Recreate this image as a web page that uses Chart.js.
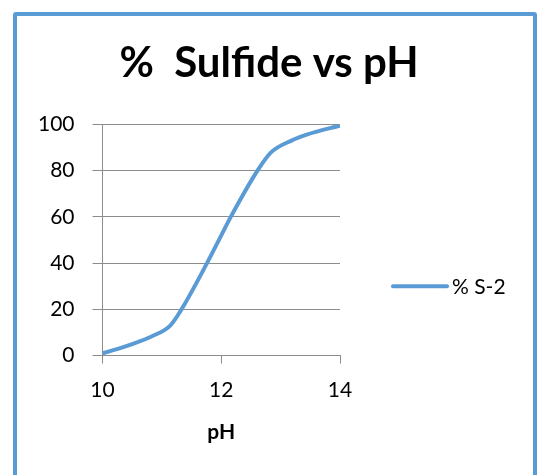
<!DOCTYPE html>
<html>
<head>
<meta charset="utf-8">
<script src="https://cdn.jsdelivr.net/npm/chart.js@4/dist/chart.umd.min.js"></script>
<style>
  html, body { margin: 0; padding: 0; background: #fff; }
  #wrap { position: relative; width: 538px; height: 475px; overflow: hidden; }
  #frame {
    position: absolute; left: 13px; top: 12px; width: 524px; height: 520px;
    box-sizing: border-box; border: 4px solid #5b9bd5; border-radius: 3px;
    pointer-events: none;
  }
</style>
</head>
<body>
<div id="wrap">
  <canvas id="chart" width="538" height="475"></canvas>
  <div id="frame"></div>
</div>
<script>
// data
const phValues = [10, 10.5, 10.86, 11.14, 11.33, 11.76, 12, 12.16, 12.61, 12.83, 13.19, 13.44, 14];
const sulfidePct = [1, 5, 8.7, 13, 20, 40, 52, 60, 80, 87.7, 93.1, 95.6, 99.5];
const seriesName = '% S-2';
const chartTitle = '%  Sulfide vs pH';
const xTitle = 'pH';

const lineColor = '#5b9bd5';
const gridColor = '#8c8c8c';
const fontFamily = 'Lato, "Open Sans", sans-serif';

// legend drawn at the right of the plot, like Excel's
const sideLegend = {
  id: 'sideLegend',
  afterDraw(chart) {
    const ctx = chart.ctx;
    const area = chart.chartArea;
    const ds = chart.data.datasets[0];
    const y = area.top + (area.bottom - area.top) * 0.7;
    const x0 = area.right + 53;
    ctx.save();
    ctx.strokeStyle = ds.borderColor;
    ctx.lineWidth = ds.borderWidth;
    ctx.lineCap = 'round';
    ctx.beginPath();
    ctx.moveTo(x0, y);
    ctx.lineTo(x0 + 54, y);
    ctx.stroke();
    ctx.fillStyle = '#000';
    ctx.font = '21px ' + fontFamily;
    ctx.textBaseline = 'middle';
    ctx.fillText(ds.label, x0 + 59, y + 1);
    ctx.restore();
  }
};

const points = phValues.map((ph, i) => ({ x: ph, y: sulfidePct[i] }));

new Chart(document.getElementById('chart'), {
  type: 'line',
  data: {
    datasets: [{
      label: seriesName,
      data: points,
      borderColor: lineColor,
      backgroundColor: lineColor,
      borderWidth: 4,
      borderCapStyle: 'round',
      pointRadius: 0,
      cubicInterpolationMode: 'monotone',
      fill: false
    }]
  },
  options: {
    responsive: false,
    animation: false,
    layout: { padding: { left: 20, right: 20, top: 14, bottom: 30 } },
    plugins: {
      legend: { display: false },
      tooltip: { enabled: false },
      title: {
        display: true,
        text: chartTitle,
        color: '#000',
        font: { family: fontFamily, size: 42, weight: 'bold', lineHeight: 1.2 },
        padding: { top: 24, bottom: 36 }
      }
    },
    scales: {
      x: {
        type: 'linear',
        min: 10,
        max: 14,
        ticks: {
          stepSize: 2,
          color: '#000',
          padding: 14,
          font: { family: fontFamily, size: 21 }
        },
        grid: { drawOnChartArea: false, drawTicks: true, tickLength: 8, color: gridColor },
        border: { color: gridColor },
        title: {
          display: true,
          text: xTitle,
          color: '#000',
          font: { family: fontFamily, size: 21, weight: 'bold', lineHeight: 1.2 },
          padding: { top: 3, bottom: 0 }
        }
      },
      y: {
        min: 0,
        max: 100,
        ticks: {
          stepSize: 20,
          color: '#000',
          padding: 18,
          font: { family: fontFamily, size: 21 }
        },
        grid: { color: gridColor, tickLength: 10 },
        border: { color: gridColor }
      },
      spacer: {
        type: 'linear',
        position: 'right',
        display: true,
        ticks: { display: false },
        grid: { display: false },
        border: { display: false },
        afterFit(scale) { scale.width = 178; }
      }
    }
  },
  plugins: [sideLegend]
});
</script>
</body>
</html>
